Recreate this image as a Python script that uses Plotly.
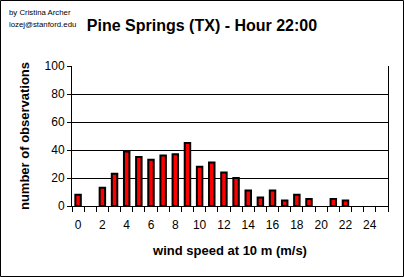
import plotly.graph_objects as go

speeds = list(range(26))
counts = [8, 0, 13, 23, 39, 35, 33, 36, 37, 45, 28, 31, 24, 20, 11, 6, 11, 4, 8, 5, 0, 5, 4, 0, 0, 0]
xtick_vals = list(range(0, 26, 2))
xtick_text = [str(v) for v in xtick_vals]
ytick_vals = [0, 20, 40, 60, 80, 100]

W, H = 404, 277
L, R, T, B = 72, 16, 66, 71
pw, ph = W - L - R, H - T - B

fig = go.Figure()
fig.add_trace(go.Bar(
    x=speeds, y=[c if c else None for c in counts], width=0.45,
    marker=dict(color="#ff0000", line=dict(color="black", width=2)),
))

font = "Arial, Liberation Sans, sans-serif"
fig.update_layout(
    width=W, height=H,
    margin=dict(l=L, r=R, t=T, b=B),
    paper_bgcolor="white", plot_bgcolor="white",
    showlegend=False,
    font=dict(family=font, color="black"),
    title=dict(text="<b>Pine Springs (TX) - Hour 22:00</b>", x=0.5, xref="container",
               y=1 - 25 / H, yref="container", yanchor="middle", xanchor="center",
               font=dict(size=16, family=font, color="black")),
    xaxis=dict(range=[-0.5, 25.5], tickmode="array", tickvals=xtick_vals, ticktext=xtick_text,
               ticks="outside", ticklen=8, tickcolor="rgba(0,0,0,0)",
               tickfont=dict(size=12, family=font, color="black"),
               showline=True, linecolor="black", linewidth=1, showgrid=False, zeroline=False,
               minor=dict(tickmode="linear", tick0=-0.5, dtick=1, ticks="outside", ticklen=5,
                          tickcolor="black", tickwidth=1, showgrid=False),
               title=dict(text="<b>wind speed at 10 m (m/s)</b>", font=dict(size=13, family=font, color="black"),
                          standoff=14)),
    yaxis=dict(range=[0, 100], tickmode="array", tickvals=ytick_vals,
               ticks="outside", ticklen=4, tickcolor="black",
               tickfont=dict(size=12, family=font, color="black"),
               showline=True, linecolor="black", linewidth=1, mirror=True,
               showgrid=True, gridcolor="black", gridwidth=1, zeroline=False,
               title=dict(text="<b>number of observations</b>", font=dict(size=13, family=font, color="black"),
                          standoff=12)),
    shapes=[dict(type="rect", xref="paper", yref="paper",
                 x0=(0.5 - L) / pw, x1=(W - 0.5 - L) / pw,
                 y0=(H - B - (H - 0.5)) / ph, y1=(H - B - 0.5) / ph,
                 line=dict(color="black", width=1))],
    annotations=[
        dict(text="by Cristina Archer", xref="paper", yref="paper", x=(7 - L) / pw, y=(H - B - 12) / ph,
             xanchor="left", yanchor="middle", showarrow=False, font=dict(size=7.8, family=font, color="black")),
        dict(text="lozej@stanford.edu", xref="paper", yref="paper", x=(7 - L) / pw, y=(H - B - 25) / ph,
             xanchor="left", yanchor="middle", showarrow=False, font=dict(size=7.8, family=font, color="black")),
    ],
)

fig.write_html("out.html")
